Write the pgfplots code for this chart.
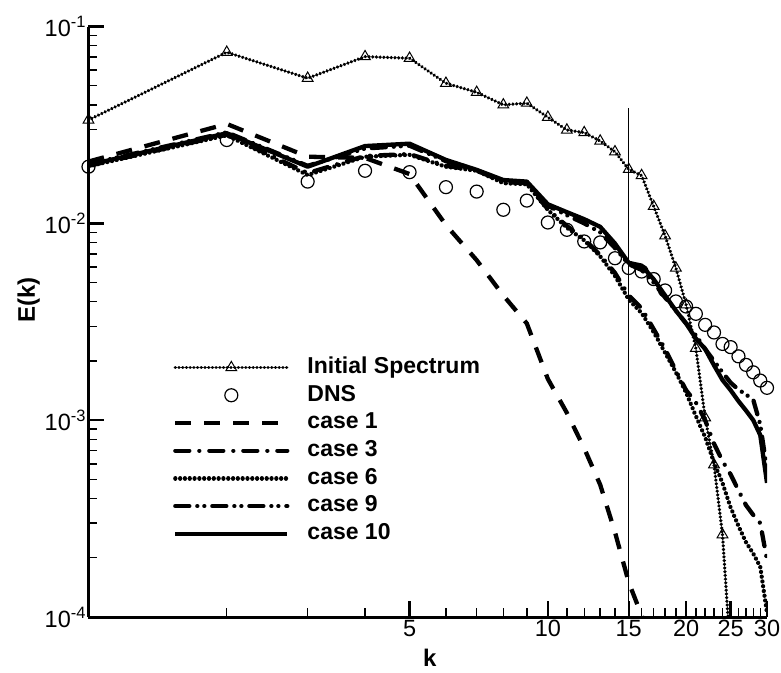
\documentclass[border=0pt]{standalone}
\usepackage{fontspec}
\setmainfont{Liberation Sans}
\usepackage{pgfplots}
\pgfplotsset{compat=1.18}
\usepackage{pgfplotstable}

\pgfplotstableread{
k E
1 0.0335
2 0.0740
3 0.0546
4 0.0703
5 0.0690
6 0.0515
7 0.0463
8 0.0400
9 0.0408
10 0.0346
11 0.0298
12 0.0289
13 0.0262
14 0.0231
15 0.0188
16 0.0175
17 0.0122
18 0.00864
19 0.00593
20 0.00386
21 0.00232
22 0.00103
23 0.000594
24 0.000262
}\initialtab

\pgfplotstableread{
k E
1 0.0194
2 0.0265
3 0.0163
4 0.0185
5 0.0182
6 0.01527
7 0.0145
8 0.01172
9 0.01305
10 0.0101
11 0.00927
12 0.00809
13 0.0080
14 0.00665
15 0.00593
16 0.00569
17 0.00521
18 0.00456
19 0.00401
20 0.00378
21 0.00347
22 0.00305
23 0.00279
24 0.00244
25 0.00235
26 0.00211
27 0.00191
28 0.00175
29 0.00159
30 0.00146
}\dnstab

\pgfplotstableread{
k E
1 0.0206
2 0.0320
3 0.0218
4 0.0215
5 0.0178
6 0.0098
7 0.0065
8 0.0043
9 0.0031
10 0.00162
11 0.00109
12 0.00072
13 0.00047
14 0.00027
15 0.00015
16 0.000102
17 0.00007
}\caseone

\pgfplotstableread{
k E
1 0.0196
2 0.0282
3 0.0180
4 0.0220
5 0.0225
6 0.0196
7 0.0186
8 0.0162
9 0.0160
10 0.0118
11 0.0097
12 0.0083
13 0.0069
14 0.0056
15 0.0043
16 0.0037
17 0.0029
18 0.0023
19 0.00178
20 0.00142
21 0.00123
22 0.00100
23 0.00076
24 0.00062
25 0.00053
26 0.00044
27 0.00037
28 0.00033
29 0.00030
30 0.000195
}\casethree

\pgfplotstableread{
k E
1 0.0195
2 0.0280
3 0.0176
4 0.0218
5 0.0223
6 0.0194
7 0.0185
8 0.0160
9 0.0158
10 0.0117
11 0.0095
12 0.0082
13 0.0068
14 0.0054
15 0.0041
16 0.0035
17 0.0028
18 0.0022
19 0.00175
20 0.00138
21 0.00105
22 0.00082
23 0.00061
24 0.00048
25 0.00036
26 0.00029
27 0.00024
28 0.00021
29 0.00018
30 0.000105
}\casesix

\pgfplotstableread{
k E
1 0.0200
2 0.0290
3 0.0196
4 0.0240
5 0.0248
6 0.0207
7 0.0185
8 0.0165
9 0.0160
10 0.0123
11 0.0110
12 0.0100
13 0.0090
14 0.0075
15 0.0062
16 0.0058
17 0.0050
18 0.0042
19 0.0036
20 0.0031
21 0.0027
22 0.0023
23 0.0020
24 0.00175
25 0.00155
26 0.00143
27 0.00135
28 0.00127
29 0.00095
30 0.00056
}\casenine

\pgfplotstableread{
k E
1 0.0198
2 0.0287
3 0.0194
4 0.0247
5 0.0254
6 0.0210
7 0.0187
8 0.0166
9 0.0163
10 0.0125
11 0.0114
12 0.0105
13 0.0096
14 0.0079
15 0.0063
16 0.0061
17 0.0052
18 0.0043
19 0.0036
20 0.0031
21 0.0026
22 0.0023
23 0.0019
24 0.0016
25 0.00142
26 0.00125
27 0.00112
28 0.00100
29 0.00084
30 0.00048
}\caseten

\tikzset{
  initstyle/.style={black, line width=3.6pt, line cap=round, dash pattern=on 0.01pt off 3.7pt},
}
\pgfplotsset{
  longlegend/.style={legend image code/.code={\draw[##1, mark repeat=2, mark phase=2] plot coordinates {(0pt,0pt) (56pt,0pt) (112pt,0pt)};}},
  dotlegend/.style={legend image code/.code={\draw[##1] plot coordinates {(56pt,0pt)};}},
}

\begin{document}
\begin{tikzpicture}
\useasboundingbox (-88.5pt,-55pt) rectangle (692.5pt,617pt);
\begin{axis}[
  at={(0pt,0pt)}, anchor=south west,
  scale only axis, width=678.5pt, height=590.5pt,
  xmode=log, ymode=log,
  xmin=1, xmax=30, ymin=1e-4, ymax=1e-1,
  axis x line*=bottom, axis y line*=left,
  axis line style={line width=3pt,-},
  xtick={5,10,15,20,25,30},
  xticklabels={5,10,15,20,25,30},
  minor xtick={2,3,4,6,7,8,9,11,12,13,14,16,17,18,19,21,22,23,24,26,27,28,29},
  ytick={1e-4,1e-3,1e-2,1e-1},
  yticklabels={10\textsuperscript{-4},10\textsuperscript{-3},10\textsuperscript{-2},10\textsuperscript{-1}},
  minor ytick={2e-4,3e-4,4e-4,5e-4,6e-4,7e-4,8e-4,9e-4,2e-3,3e-3,4e-3,5e-3,6e-3,7e-3,8e-3,9e-3,2e-2,3e-2,4e-2,5e-2,6e-2,7e-2,8e-2,9e-2},
  tick align=inside,
  major tick length=16pt, minor tick length=9pt,
  major tick style={line width=2.4pt, black},
  minor tick style={line width=1.4pt, black},
  /pgf/number format/assume math mode=true,
  tick label style={font=\fontsize{23.5}{27}\selectfont},
  yticklabel style={xshift=1pt},
  xlabel={\bfseries k},
  ylabel={\bfseries E(k)},
  label style={font=\fontsize{24}{28}\selectfont},
  xlabel style={at={(axis description cs:0.503,-0.069)}, anchor=center},
  ylabel style={at={(axis description cs:-0.088,0.537)}, anchor=center},
  legend style={at={(axis description cs:0.1245,0.441)}, anchor=north west,
    draw=none, fill=none, inner sep=0pt, row sep=6.2pt, column sep=18pt,
    font=\fontsize{23}{27}\selectfont\bfseries,
    nodes={inner sep=0pt, text height=16.5pt, text depth=5pt}},
  legend cell align=left,
  longlegend,
]
\addplot[initstyle, mark=triangle, mark size=6.2pt,
  mark options={solid, fill=white, line width=1pt, line cap=butt}]
  table[x=k,y=E] {\initialtab};
\addlegendentry{Initial Spectrum}

\addplot[only marks, mark=o, mark size=6.5pt, mark options={line width=1.2pt, black}, dotlegend]
  table[x=k,y=E] {\dnstab};
\addlegendentry{DNS}

\addplot[black, line width=4.3pt, dash pattern=on 16pt off 13pt] table[x=k,y=E] {\caseone};
\addlegendentry{case 1}

\addplot[black, line width=4.3pt, line cap=round, dash pattern=on 14pt off 10pt on 0.01pt off 10pt] table[x=k,y=E] {\casethree};
\addlegendentry{case 3}

\addplot[black, line width=4.3pt, line cap=round, dash pattern=on 0.01pt off 4.8pt] table[x=k,y=E] {\casesix};
\addlegendentry{case 6}

\addplot[black, line width=4.3pt, line cap=round, dash pattern=on 14pt off 8pt on 0.01pt off 7pt on 0.01pt off 8pt] table[x=k,y=E] {\casenine};
\addlegendentry{case 9}

\addplot[black, line width=4.3pt, line join=round] table[x=k,y=E] {\caseten};
\addlegendentry{case 10}

\addplot[initstyle, forget plot] coordinates {(24,0.000262) (25,0.000063)};

\draw[black, line width=0.9pt] (axis cs:15,0.0385) -- (axis cs:15,1e-4);
\end{axis}
\end{tikzpicture}
\end{document}
